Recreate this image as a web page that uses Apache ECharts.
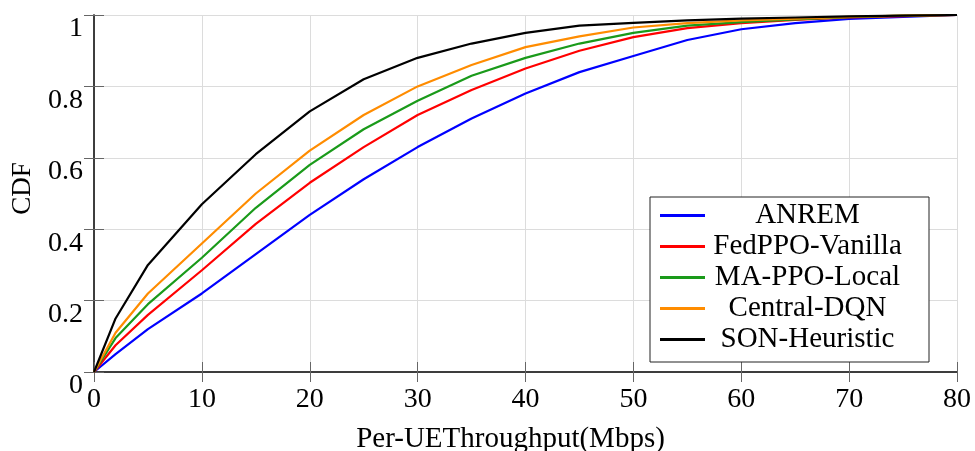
<!DOCTYPE html>
<html>
<head>
<meta charset="utf-8">
<style>
  html, body { margin: 0; padding: 0; background: #fff; }
  #chart { width: 975px; height: 451px; }
</style>
<script src="https://cdn.jsdelivr.net/npm/echarts@6/dist/echarts.min.js"></script>
</head>
<body>
<div id="chart"></div>
<script>
const throughput = [0, 2, 5, 10, 15, 20, 25, 30, 35, 40, 45, 50, 55, 60, 65, 70, 75, 80];

const anrem = [0, 0.05, 0.12, 0.22, 0.33, 0.44, 0.54, 0.63, 0.71, 0.78, 0.84, 0.885, 0.93, 0.96, 0.977, 0.989, 0.995, 1];
const fedPpoVanilla = [0, 0.075, 0.16, 0.285, 0.415, 0.53, 0.63, 0.72, 0.79, 0.85, 0.90, 0.938, 0.963, 0.977, 0.986, 0.993, 0.997, 1];
const maPpoLocal = [0, 0.095, 0.19, 0.32, 0.46, 0.58, 0.68, 0.76, 0.83, 0.88, 0.92, 0.95, 0.97, 0.98, 0.988, 0.994, 0.998, 1];
const centralDqn = [0, 0.11, 0.22, 0.36, 0.50, 0.62, 0.72, 0.80, 0.86, 0.91, 0.94, 0.965, 0.977, 0.985, 0.99, 0.995, 0.998, 1];
const sonHeuristic = [0, 0.15, 0.30, 0.47, 0.61, 0.73, 0.82, 0.88, 0.92, 0.95, 0.97, 0.978, 0.985, 0.99, 0.993, 0.996, 0.998, 1];

const seriesNames = ['ANREM', 'FedPPO-Vanilla', 'MA-PPO-Local', 'Central-DQN', 'SON-Heuristic'];
const seriesValues = [anrem, fedPpoVanilla, maPpoLocal, centralDqn, sonHeuristic];
const colors = ['#0000ff', '#ff0000', '#1a9a1a', '#ff8c00', '#000000'];

const font = 'Liberation Serif, Times New Roman, serif';

const chart = echarts.init(document.getElementById('chart'));

const axisLine = { show: true, lineStyle: { color: '#333', width: 1.5 } };
const axisTick = { show: true, inside: true, length: 10, lineStyle: { color: '#666', width: 1 } };

chart.setOption({
  animation: false,
  color: colors,
  textStyle: { fontFamily: font },
  grid: { left: 94, right: 18, top: 15, bottom: 79, containLabel: false, outerBoundsMode: 'none' },
  legend: {
    left: 650,
    top: 197,
    orient: 'vertical',
    backgroundColor: '#fff',
    borderColor: '#222',
    borderWidth: 1,
    borderRadius: 0,
    padding: [4, 24, 8, 10],
    itemGap: 2,
    itemWidth: 45,
    itemHeight: 3,
    icon: 'rect',
    formatter: name => '{t|' + name + '}',
    textStyle: {
      rich: {
        t: {
          width: 195,
          align: 'center',
          lineHeight: 27,
          fontSize: 29,
          fontFamily: font,
          color: '#000'
        }
      }
    },
    data: seriesNames
  },
  xAxis: [{
    type: 'value',
    min: 0,
    max: 80,
    interval: 10,
    name: 'Per-UEThroughput(Mbps)',
    nameLocation: 'middle',
    nameGap: 53,
    nameTextStyle: { fontSize: 29, color: '#000', fontFamily: font, padding: [0, 30, 0, 0] },
    axisLine,
    axisTick,
    axisLabel: { fontSize: 28, color: '#000', margin: 14, fontFamily: font },
    splitLine: { show: true, lineStyle: { color: '#dcdcdc', width: 1 } }
  }, {
    type: 'value',
    position: 'top',
    min: 0,
    max: 80,
    interval: 10,
    axisLine,
    axisTick,
    axisLabel: { show: false },
    splitLine: { show: false }
  }],
  yAxis: [{
    type: 'value',
    min: 0,
    max: 1,
    interval: 0.2,
    name: 'CDF',
    nameLocation: 'middle',
    nameGap: 58,
    nameTextStyle: { fontSize: 27, color: '#000', fontFamily: font, padding: [0, 0, 0, 10] },
    axisLine,
    axisTick,
    axisLabel: {
      fontSize: 28,
      color: '#000',
      margin: 11,
      fontFamily: font,
      verticalAlign: 'top',
      formatter: v => String(Math.round(v * 10) / 10)
    },
    splitLine: { show: true, lineStyle: { color: '#dcdcdc', width: 1 } }
  }, {
    type: 'value',
    position: 'right',
    min: 0,
    max: 1,
    interval: 0.2,
    axisLine,
    axisTick,
    axisLabel: { show: false },
    splitLine: { show: false }
  }],
  series: seriesNames.map((name, i) => ({
    name,
    type: 'line',
    symbol: 'none',
    lineStyle: { width: 2.2 },
    data: throughput.map((x, j) => [x, seriesValues[i][j]])
  }))
});
</script>
</body>
</html>
